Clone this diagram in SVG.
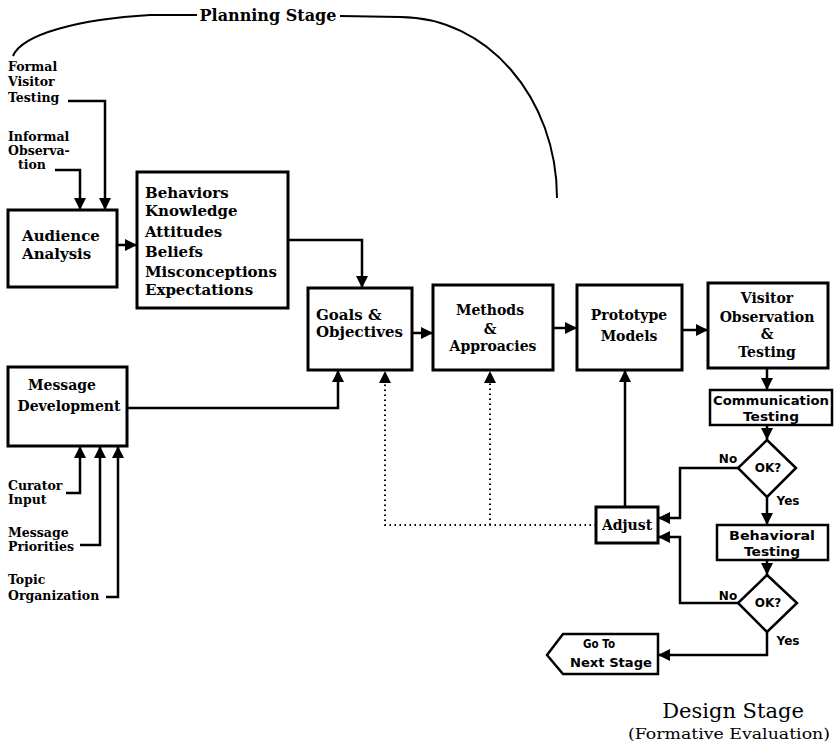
<svg xmlns="http://www.w3.org/2000/svg" width="835" height="746" viewBox="0 0 835 746">
<defs>
<marker id="ah" markerUnits="userSpaceOnUse" markerWidth="12" markerHeight="12" refX="10" refY="5" orient="auto" viewBox="0 0 10 10">
<path d="M0,0 L10,5 L0,10 z" fill="#000"/>
</marker>
</defs>
<style>
.box{fill:#fff;stroke:#000;stroke-width:3}
.sbox{fill:#fff;stroke:#000;stroke-width:2.5}
.c{fill:none;stroke:#000;stroke-width:2.5;marker-end:url(#ah)}
.d{fill:none;stroke:#000;stroke-width:2;stroke-dasharray:1.5 3.5;marker-end:url(#ah)}
.curve{fill:none;stroke:#000;stroke-width:2}
.t{font-family:"DejaVu Serif","Liberation Serif",serif;font-weight:bold;font-size:15px;fill:#000}
.m{font-family:"DejaVu Serif","Liberation Serif",serif;font-weight:bold;font-size:14px;fill:#000;text-anchor:middle}
.s{font-family:"DejaVu Serif","Liberation Serif",serif;font-weight:bold;font-size:12.5px;fill:#000}
.k{font-family:"DejaVu Sans","Liberation Sans",sans-serif;font-weight:bold;font-size:12px;fill:#000;text-anchor:middle}
.title{font-family:"DejaVu Serif","Liberation Serif",serif;font-weight:bold;font-size:16px;fill:#000}
</style>

<g id="connectors">
<path class="curve" d="M197 15 L150 15 C80 19 22 34 13 56"/>
<path class="curve" d="M340 16 L400 17 C487 17 557 98 557 198"/>
<path class="c" d="M68 101 H105 V210"/>
<path class="c" d="M55 170 H80 V210"/>
<path class="c" d="M117 245 H137"/>
<path class="c" d="M288 240 H362 V288"/>
<path class="c" d="M412 333 H433"/>
<path class="c" d="M553 328 H577"/>
<path class="c" d="M682 330 H708"/>
<path class="c" d="M127 408 H338 V370"/>
<path class="c" d="M66 493 H80 V446"/>
<path class="c" d="M80 545 H100 V446"/>
<path class="c" d="M106 597 H118 V446"/>
<path class="d" d="M596 525 H385 V371"/>
<path class="d" d="M490 525 V371"/>
<path class="c" d="M625 507 V370"/>
<path class="c" d="M767 368 V390"/>
<path class="c" d="M767 425 V440"/>
<path class="c" d="M742 468 H680 V518 H658"/>
<path class="c" d="M767 497 V525"/>
<path class="c" d="M767 560 V575"/>
<path class="c" d="M742 603 H680 V537 H658"/>
<path class="c" d="M767 632 V655 H658"/>
</g>

<g id="planning-label">
<text class="title" x="268" y="21" text-anchor="middle">Planning  Stage</text>
</g>

<g id="formal">
<text class="s" x="8" y="71">Formal</text>
<text class="s" x="8" y="86">Visitor</text>
<text class="s" x="8" y="102">Testing</text>
</g>
<g id="informal">
<text class="s" x="8" y="141">Informal</text>
<text class="s" x="8" y="155">Observa-</text>
<text class="s" x="18" y="169">tion</text>
</g>

<g id="audience">
<rect class="box" x="8" y="210" width="109" height="77"/>
<text class="t" x="22" y="241" font-size="14.5">Audience</text>
<text class="t" x="22" y="259" font-size="14.5">Analysis</text>
</g>

<g id="behaviors">
<rect class="box" x="137" y="172" width="151" height="136"/>
<text class="t" x="145" y="198">Behaviors</text>
<text class="t" x="145" y="216">Knowledge</text>
<text class="t" x="145" y="237">Attitudes</text>
<text class="t" x="145" y="257">Beliefs</text>
<text class="t" x="145" y="277">Misconceptions</text>
<text class="t" x="145" y="295">Expectations</text>
</g>

<g id="goals">
<rect class="box" x="308" y="288" width="104" height="82"/>
<text class="t" x="316" y="320" font-size="14">Goals &amp;</text>
<text class="t" x="316" y="337" font-size="14">Objectives</text>
</g>

<g id="methods">
<rect class="box" x="433" y="285" width="120" height="85"/>
<text class="m" x="490" y="315">Methods</text>
<text class="m" x="490" y="334">&amp;</text>
<text class="m" x="493" y="351">Approacies</text>
</g>

<g id="prototype">
<rect class="box" x="577" y="285" width="105" height="85"/>
<text class="m" x="629" y="320">Prototype</text>
<text class="m" x="629" y="341">Models</text>
</g>

<g id="visitor">
<rect class="box" x="708" y="283" width="120" height="85"/>
<text class="m" x="767" y="303">Visitor</text>
<text class="m" x="767" y="322">Observation</text>
<text class="m" x="767" y="339">&amp;</text>
<text class="m" x="767" y="357">Testing</text>
</g>

<g id="message">
<rect class="box" x="8" y="367" width="119" height="79"/>
<text class="m" x="62" y="390">Message</text>
<text class="m" x="69" y="411">Development</text>
</g>

<g id="curator">
<text class="s" x="8" y="490">Curator</text>
<text class="s" x="8" y="504">Input</text>
</g>
<g id="priorities">
<text class="s" x="8" y="537">Message</text>
<text class="s" x="8" y="551">Priorities</text>
</g>
<g id="topic">
<text class="s" x="8" y="584">Topic</text>
<text class="s" x="8" y="600">Organization</text>
</g>

<g id="communication">
<rect class="sbox" x="710" y="390" width="122" height="35"/>
<text class="k" x="771" y="405" font-size="11.5" textLength="116" lengthAdjust="spacingAndGlyphs">Communication</text>
<text class="k" x="771" y="421" textLength="56" lengthAdjust="spacingAndGlyphs">Testing</text>
</g>

<g id="ok1">
<polygon class="sbox" points="767,440 796,468 767,497 738,468"/>
<text class="k" x="768" y="472" font-size="11">OK?</text>
<text class="k" x="728" y="463" font-size="11">No</text>
<text class="k" x="788" y="505" font-size="11">Yes</text>
</g>

<g id="adjust">
<rect class="box" x="596" y="507" width="62" height="36"/>
<text class="m" x="627" y="530">Adjust</text>
</g>

<g id="behavioral">
<rect class="sbox" x="717" y="525" width="111" height="35"/>
<text class="k" x="772" y="540" textLength="86" lengthAdjust="spacingAndGlyphs">Behavioral</text>
<text class="k" x="772" y="556" textLength="56" lengthAdjust="spacingAndGlyphs">Testing</text>
</g>

<g id="ok2">
<polygon class="sbox" points="767,575 797,603 767,632 738,603"/>
<text class="k" x="768" y="607" font-size="11">OK?</text>
<text class="k" x="728" y="600" font-size="11">No</text>
<text class="k" x="788" y="645" font-size="11">Yes</text>
</g>

<g id="next-stage">
<polygon class="sbox" points="547,655 563,634 658,634 658,674 563,674"/>
<text class="k" x="599" y="648" textLength="32" lengthAdjust="spacingAndGlyphs">Go To</text>
<text class="k" x="611" y="667" textLength="82" lengthAdjust="spacingAndGlyphs">Next Stage</text>
</g>

<g id="design-stage">
<text x="733" y="718" text-anchor="middle" font-family="DejaVu Serif, Liberation Serif, serif" font-size="21" fill="#000">Design Stage</text>
<text x="729" y="739" text-anchor="middle" font-family="DejaVu Serif, Liberation Serif, serif" font-size="15.5" textLength="202" lengthAdjust="spacingAndGlyphs" fill="#000">(Formative Evaluation)</text>
</g>
</svg>
